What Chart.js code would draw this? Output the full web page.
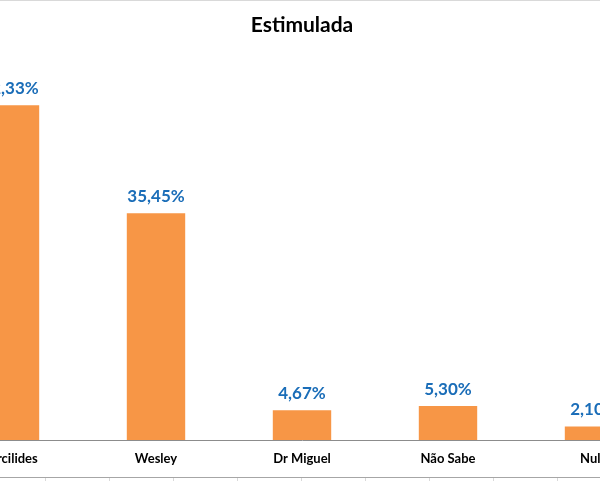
<!DOCTYPE html>
<html>
<head>
<meta charset="utf-8">
<script src="https://cdn.jsdelivr.net/npm/chart.js@4/dist/chart.umd.min.js"></script>
<style>
  html, body { margin: 0; padding: 0; background: #fff; }
  #wrap { position: relative; width: 600px; height: 481px; overflow: hidden; background: #fff; }
  #topline { position: absolute; left: 0; top: 0; width: 600px; height: 1px; background: #d9d9d9; }
  #botline { position: absolute; left: 0; top: 477px; width: 600px; height: 1px; background: #a6a6a6; }
  #sheet { position: absolute; left: 0; top: 478px; width: 600px; height: 3px;
           background: repeating-linear-gradient(to right, transparent 0 44px, #d9d9d9 44px 45px, transparent 45px 64px);
           background-position: 1px 0; }
  #box { position: absolute; left: -63px; top: 0; width: 730px; height: 477px; }
</style>
</head>
<body>
<div id="wrap">
  <div id="topline"></div>
  <div id="box"><canvas id="c"></canvas></div>
  <div id="botline"></div>
  <div id="sheet"></div>
</div>
<script>
const categories = ["Percilides", "Wesley", "Dr Miguel", "Não Sabe", "Nulo"];
const values = [52.33, 35.45, 4.67, 5.30, 2.10];
const chartTitle = "Estimulada";

const FONT = "Lato, 'Open Sans', sans-serif";

const labelPlugin = {
  id: 'barLabels',
  afterDatasetsDraw(chart) {
    const ctx = chart.ctx;
    const meta = chart.getDatasetMeta(0);
    ctx.save();
    ctx.font = "bold 17px " + FONT;
    ctx.fillStyle = "#1A6DB8";
    ctx.textAlign = "center";
    ctx.textBaseline = "middle";
    meta.data.forEach((bar, i) => {
      const txt = values[i].toFixed(2).replace('.', ',') + '%';
      ctx.fillText(txt, bar.x, bar.y - 17);
    });
    ctx.restore();
  }
};

new Chart(document.getElementById('c'), {
  type: 'bar',
  data: {
    labels: categories,
    datasets: [{
      data: values,
      backgroundColor: '#F79646',
      borderWidth: 0,
      categoryPercentage: 1,
      barPercentage: 0.4
    }]
  },
  options: {
    responsive: true,
    maintainAspectRatio: false,
    animation: false,
    layout: { padding: 0 },
    plugins: {
      legend: { display: false },
      tooltip: { enabled: false },
      title: {
        display: true,
        text: chartTitle,
        color: '#000',
        font: { family: FONT, size: 21, weight: 'bold' },
        padding: { top: 13, bottom: 18 }
      }
    },
    scales: {
      x: {
        offset: true,
        grid: { display: false, drawTicks: false },
        border: { display: true, color: '#8c8c8c', width: 1 },
        ticks: { color: '#000', font: { family: FONT, size: 13, weight: 'bold' }, padding: 11, maxRotation: 0 },
        afterFit(scale) { scale.height = 37; }
      },
      y: {
        display: false,
        min: 0,
        max: 60
      }
    }
  },
  plugins: [labelPlugin]
});
</script>
</body>
</html>
